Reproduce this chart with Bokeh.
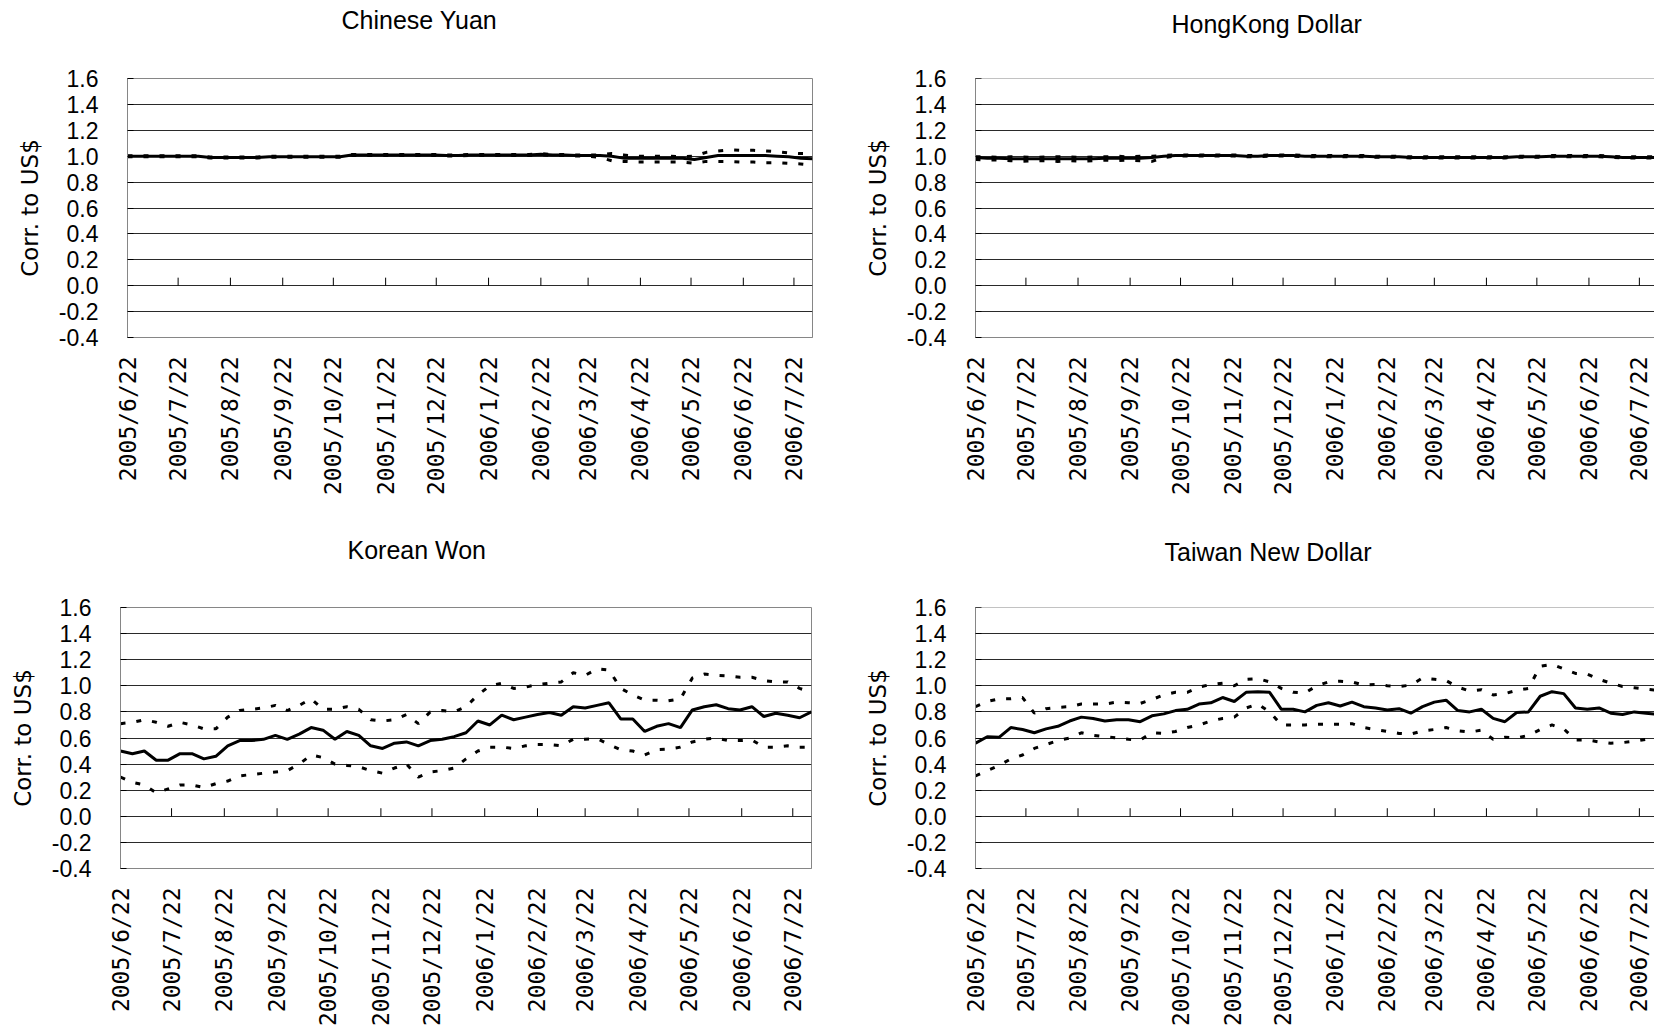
import math
import pandas as pd
from bokeh.plotting import figure
from bokeh.layouts import column, row
from bokeh.models import FixedTicker, Span, NumeralTickFormatter, Range1d, Title
from bokeh.embed import file_html
from bokeh.resources import INLINE

# ---------------- data ----------------
start_date = "2005-06-22"
n_weeks = 59  # weekly sample dates 2005-06-22 ... 2006-08-02
sample_dates = pd.date_range(start_date, periods=n_weeks, freq="7D")

tick_labels = ["2005/6/22", "2005/7/22", "2005/8/22", "2005/9/22", "2005/10/22",
               "2005/11/22", "2005/12/22", "2006/1/22", "2006/2/22", "2006/3/22",
               "2006/4/22", "2006/5/22", "2006/6/22", "2006/7/22"]
y_ticks = [-0.4, -0.2, 0.0, 0.2, 0.4, 0.6, 0.8, 1.0, 1.2, 1.4, 1.6]

cny_center = [1.0, 1.0, 1.0, 1.0, 1.0, 1.0, 1.0, 0.99, 0.99, 0.99, 0.99, 0.99,
              0.995, 0.995, 0.995, 0.995, 0.995, 0.995, 0.995,
              1.01, 1.01, 1.01, 1.01, 1.01, 1.01, 1.01, 1.01,
              1.005, 1.005, 1.01, 1.01, 1.01, 1.01, 1.01, 1.01, 1.015, 1.01, 1.01, 1.005, 1.005, 1.005,
              1.0, 0.985, 0.985, 0.985, 0.985, 0.985, 0.985, 0.975, 0.99,
              1.005, 1.005, 1.005, 1.005, 1.005, 1.0, 0.995, 0.985, 0.98]
cny_upper = [1.004, 1.004, 1.004, 1.004, 1.004, 1.004, 1.004, 0.994, 0.994, 0.994, 0.994, 0.994,
             0.999, 0.999, 0.999, 0.999, 0.999, 0.999, 0.999,
             1.014, 1.014, 1.014, 1.014, 1.014, 1.014, 1.014, 1.014,
             1.009, 1.009, 1.014, 1.014, 1.014, 1.014, 1.014, 1.014, 1.019, 1.014, 1.014, 1.009, 1.009, 1.01,
             1.02, 1.01, 1.0, 1.0, 1.0, 1.0, 0.995, 1.0, 1.03,
             1.04, 1.05, 1.045, 1.045, 1.04, 1.035, 1.025, 1.02, 1.02]
cny_lower = [0.996, 0.996, 0.996, 0.996, 0.996, 0.996, 0.996, 0.986, 0.986, 0.986, 0.986, 0.986,
             0.991, 0.991, 0.991, 0.991, 0.991, 0.991, 0.991,
             1.006, 1.006, 1.006, 1.006, 1.006, 1.006, 1.006, 1.006,
             1.001, 1.001, 1.006, 1.006, 1.006, 1.006, 1.006, 1.006, 1.011, 1.006, 1.006, 1.001, 1.001, 0.99,
             0.965, 0.96, 0.955, 0.955, 0.955, 0.955, 0.955, 0.945, 0.96,
             0.96, 0.96, 0.955, 0.955, 0.95, 0.95, 0.945, 0.94, 0.93]

hkd_center = [0.99, 0.985, 0.985, 0.98, 0.98, 0.98, 0.98, 0.98, 0.98, 0.98, 0.98, 0.985,
              0.985, 0.985, 0.985, 0.99, 1.0, 1.005, 1.005, 1.005, 1.005, 1.005, 1.005,
              1.0, 1.0, 1.005, 1.005, 1.005, 1.0, 1.0, 1.0, 1.0, 1.0, 1.0, 0.995, 0.995,
              0.995, 0.99, 0.99, 0.99, 0.99, 0.99, 0.99, 0.99, 0.99, 0.99, 0.995, 0.995,
              0.995, 1.0, 1.0, 1.0, 1.0, 1.0, 0.995, 0.99, 0.99, 0.99, 0.99]
hkd_upper = [0.995, 0.995, 0.99, 0.995, 0.995, 0.99, 0.995, 0.995, 0.995, 0.99, 0.995, 0.995,
             1.0, 0.995, 1.0, 1.0, 1.005, 1.01, 1.01, 1.01, 1.01, 1.01, 1.01,
             1.005, 1.005, 1.01, 1.01, 1.01, 1.005, 1.005, 1.005, 1.005, 1.005, 1.005, 1.0, 1.0,
             1.0, 0.995, 0.995, 0.995, 0.995, 0.995, 0.995, 0.995, 0.995, 0.995, 1.0, 1.0,
             1.0, 1.005, 1.005, 1.005, 1.005, 1.005, 1.0, 0.995, 0.995, 0.995, 0.995]
hkd_lower = [0.975, 0.97, 0.97, 0.965, 0.96, 0.965, 0.965, 0.96, 0.965, 0.96, 0.965, 0.97,
             0.965, 0.97, 0.965, 0.96, 0.99, 1.001, 1.001, 1.001, 1.001, 1.001, 1.001,
             0.996, 0.996, 1.001, 1.001, 1.001, 0.996, 0.996, 0.996, 0.996, 0.996, 0.996, 0.991, 0.991,
             0.991, 0.986, 0.986, 0.986, 0.986, 0.986, 0.986, 0.986, 0.986, 0.986, 0.991, 0.991,
             0.991, 0.996, 0.996, 0.996, 0.996, 0.996, 0.991, 0.986, 0.986, 0.986, 0.986]

krw_center = [0.50, 0.48, 0.50, 0.43, 0.43, 0.48, 0.48, 0.44, 0.46, 0.54, 0.58, 0.58,
              0.59, 0.62, 0.59, 0.63, 0.68, 0.66, 0.59, 0.65, 0.62, 0.54, 0.52, 0.56,
              0.57, 0.54, 0.58, 0.59, 0.61, 0.64, 0.73, 0.70, 0.775, 0.74, 0.76, 0.78,
              0.795, 0.775, 0.84, 0.83, 0.85, 0.87, 0.745, 0.745, 0.65, 0.69, 0.71, 0.68,
              0.815, 0.84, 0.855, 0.825, 0.815, 0.84, 0.765, 0.79, 0.775, 0.755, 0.80]
krw_upper = [0.71, 0.72, 0.74, 0.72, 0.69, 0.72, 0.70, 0.67, 0.67, 0.76, 0.81, 0.82,
             0.83, 0.85, 0.81, 0.85, 0.90, 0.82, 0.82, 0.84, 0.82, 0.74, 0.73, 0.74,
             0.78, 0.71, 0.80, 0.81, 0.80, 0.84, 0.93, 1.00, 1.02, 0.98, 0.99, 1.01,
             1.02, 1.03, 1.10, 1.08, 1.13, 1.12, 0.98, 0.93, 0.89, 0.89, 0.885, 0.90,
             1.06, 1.09, 1.08, 1.075, 1.065, 1.065, 1.04, 1.03, 1.03, 0.98, 0.95]
krw_lower = [0.30, 0.26, 0.24, 0.18, 0.21, 0.24, 0.24, 0.22, 0.25, 0.27, 0.31, 0.32,
             0.33, 0.34, 0.35, 0.40, 0.47, 0.45, 0.40, 0.39, 0.38, 0.35, 0.33, 0.37,
             0.40, 0.30, 0.34, 0.35, 0.37, 0.44, 0.50, 0.53, 0.53, 0.52, 0.54, 0.55,
             0.55, 0.54, 0.59, 0.59, 0.595, 0.55, 0.51, 0.50, 0.47, 0.51, 0.515, 0.53,
             0.57, 0.59, 0.60, 0.58, 0.58, 0.585, 0.53, 0.53, 0.54, 0.53, 0.53]

twd_center = [0.56, 0.61, 0.605, 0.68, 0.665, 0.64, 0.67, 0.69, 0.73, 0.76, 0.75, 0.73,
              0.74, 0.74, 0.725, 0.77, 0.785, 0.81, 0.82, 0.86, 0.87, 0.91, 0.88, 0.95,
              0.955, 0.95, 0.82, 0.82, 0.80, 0.85, 0.87, 0.845, 0.875, 0.84, 0.83, 0.815,
              0.825, 0.79, 0.84, 0.875, 0.89, 0.81, 0.80, 0.82, 0.75, 0.725, 0.795, 0.80,
              0.92, 0.955, 0.94, 0.83, 0.82, 0.83, 0.79, 0.78, 0.80, 0.79, 0.78]
twd_upper = [0.84, 0.88, 0.90, 0.90, 0.91, 0.79, 0.825, 0.835, 0.84, 0.86, 0.86, 0.86,
             0.875, 0.87, 0.865, 0.895, 0.93, 0.95, 0.95, 0.99, 1.01, 1.02, 1.00, 1.05,
             1.055, 1.03, 0.98, 0.95, 0.945, 1.00, 1.03, 1.035, 1.03, 1.005, 1.01, 1.00,
             0.995, 1.005, 1.06, 1.05, 1.04, 0.99, 0.96, 0.97, 0.93, 0.94, 0.965, 0.98,
             1.15, 1.165, 1.13, 1.095, 1.09, 1.05, 1.02, 0.995, 0.985, 0.975, 0.965]
twd_lower = [0.31, 0.35, 0.39, 0.44, 0.47, 0.52, 0.55, 0.58, 0.60, 0.64, 0.62, 0.61,
             0.60, 0.59, 0.585, 0.64, 0.635, 0.65, 0.68, 0.70, 0.73, 0.75, 0.76, 0.83,
             0.86, 0.80, 0.70, 0.70, 0.70, 0.705, 0.705, 0.705, 0.71, 0.68, 0.665, 0.65,
             0.635, 0.63, 0.655, 0.665, 0.68, 0.655, 0.645, 0.66, 0.59, 0.605, 0.60, 0.62,
             0.665, 0.70, 0.67, 0.585, 0.585, 0.57, 0.56, 0.565, 0.575, 0.59, 0.60]

# ---------------- helpers ----------------
t0 = pd.Timestamp(start_date)
x_days = [(d - t0).days for d in sample_dates]
tick_days = [(pd.Timestamp(s.replace("/", "-")) - t0).days for s in tick_labels]

GRAY = "#868686"


def make_panel(title, center, upper, lower, width, height, mb_left, mb_right,
               mb_top, mb_bottom, x_end, title_offset, gap_standoff, cut_right):
    p = figure(width=width, height=height, output_backend="svg", toolbar_location=None,
               x_range=Range1d(0, x_end), y_range=Range1d(-0.4, 1.6),
               min_border_left=mb_left, min_border_right=mb_right,
               min_border_top=mb_top, min_border_bottom=mb_bottom)
    p.background_fill_color = "white"
    p.border_fill_color = "white"

    # white spacer block between the plot area and the chart title
    p.add_layout(Title(text=".", text_font="Liberation Sans", text_font_size="10px",
                       text_color="white", standoff=gap_standoff), "above")
    # chart title (stacked outside the spacer)
    p.add_layout(Title(text=title, align="left", offset=title_offset,
                       vertical_align="top", standoff=0,
                       text_font="Liberation Sans", text_font_size="25px",
                       text_font_style="normal", text_color="black"), "above")

    # y axis
    yt = FixedTicker(ticks=y_ticks)
    p.yaxis.ticker = yt
    p.yaxis.formatter = NumeralTickFormatter(format="0.0")
    p.yaxis.major_label_text_font = "Liberation Sans"
    p.yaxis.major_label_text_font_size = "23px"
    p.yaxis.major_label_text_color = "black"
    p.yaxis.major_label_standoff = 29
    p.yaxis.major_tick_in = 6
    p.yaxis.major_tick_out = 0
    p.yaxis.major_tick_line_color = "black"
    p.yaxis.minor_tick_line_color = None
    p.yaxis.axis_line_color = GRAY
    p.yaxis.axis_label = "Corr. to US$"
    p.yaxis.axis_label_text_font = "DejaVu Sans"
    p.yaxis.axis_label_text_font_size = "23px"
    p.yaxis.axis_label_text_font_style = "normal"
    p.yaxis.axis_label_text_color = "black"
    p.yaxis.axis_label_standoff = 13

    # x axis (labels only, at the bottom)
    p.xaxis.ticker = FixedTicker(ticks=tick_days)
    p.xaxis.major_label_overrides = {d: lab for d, lab in zip(tick_days, tick_labels)}
    p.xaxis.major_label_orientation = math.pi / 2
    p.xaxis.major_label_text_font = "DejaVu Sans Mono"
    p.xaxis.major_label_text_font_size = "23px"
    p.xaxis.major_label_text_color = "black"
    p.xaxis.major_label_standoff = 13
    p.xaxis.major_tick_line_color = None
    p.xaxis.minor_tick_line_color = None
    p.xaxis.axis_line_color = GRAY

    p.xgrid.visible = False
    p.ygrid.ticker = yt
    p.ygrid.grid_line_color = "#2a2a2a"
    p.ygrid.grid_line_width = 1

    if cut_right:
        p.outline_line_color = None
        p.add_layout(Span(location=1.6, dimension="width", line_color=GRAY, line_width=1))
    else:
        p.outline_line_color = GRAY
        p.outline_line_width = 1

    # category tick marks sitting on the zero line
    p.segment(x0=tick_days[1:], y0=[0.0] * (len(tick_days) - 1),
              x1=tick_days[1:], y1=[0.062] * (len(tick_days) - 1),
              line_color="black", line_width=1)

    p.line(x_days, upper, line_color="black", line_width=3, line_dash="5 11")
    p.line(x_days, lower, line_color="black", line_width=3, line_dash="5 11")
    p.line(x_days, center, line_color="black", line_width=3)
    return p


p1 = make_panel("Chinese Yuan", cny_center, cny_upper, cny_lower, 840, 530,
                127, 28, 78, 193, 406, 214, 33, False)
p2 = make_panel("HongKong Dollar", hkd_center, hkd_upper, hkd_lower, 814, 530,
                135, 0, 78, 193, 404, 196, 29, True)
p3 = make_panel("Korean Won", krw_center, krw_upper, krw_lower, 840, 500,
                120, 29, 77, 162, 406, 227, 32, False)
p4 = make_panel("Taiwan New Dollar", twd_center, twd_upper, twd_lower, 814, 500,
                135, 0, 77, 162, 404, 189, 30, True)

layout = column(row(p1, p2), row(p3, p4))
open("out.html", "w").write(file_html(layout, INLINE))
